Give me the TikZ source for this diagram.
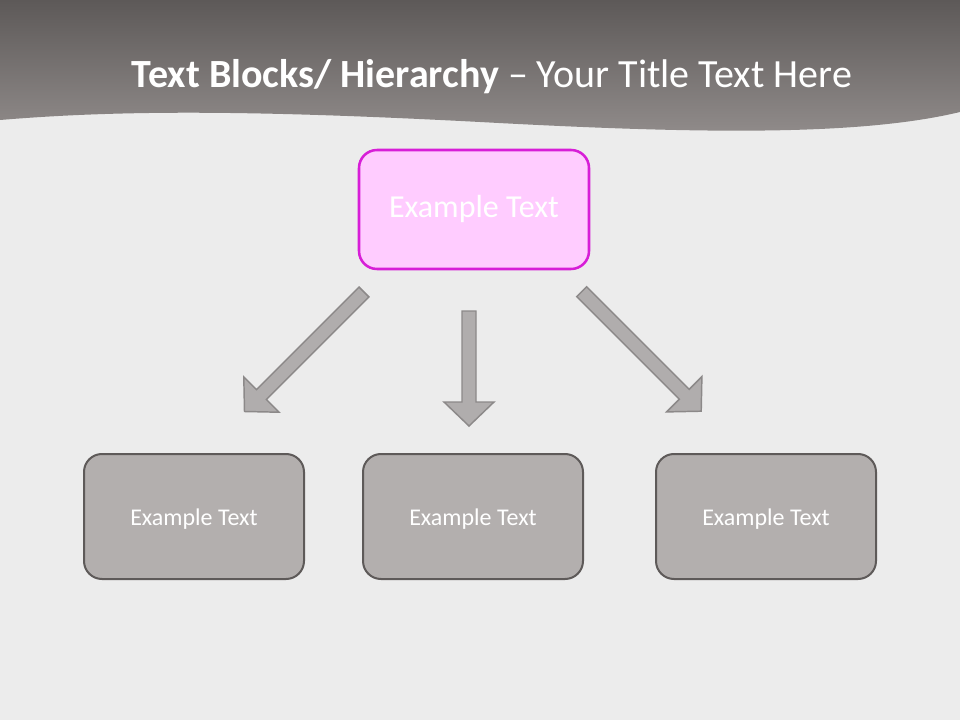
\documentclass[tikz,border=0pt]{standalone}
\usepackage{fontspec}
\setmainfont{Carlito}
\usepackage{tikz}
\usetikzlibrary{calc}

\definecolor{paper}{RGB}{236,236,236}
\definecolor{bandtop}{RGB}{93,89,88}
\definecolor{bandbottom}{RGB}{145,140,139}
\definecolor{pinkfill}{RGB}{255,204,255}
\definecolor{pinkline}{RGB}{215,30,215}
\definecolor{boxfill}{RGB}{179,175,174}
\definecolor{boxline}{RGB}{94,90,89}
\definecolor{arrowfill}{RGB}{176,173,173}
\definecolor{arrowline}{RGB}{140,137,137}

\tikzset{
    topbox/.style={draw=pinkline,fill=pinkfill,line width=1.9pt,rounded corners=13.5pt,
        minimum width=172.5pt,minimum height=89.25pt,text=white,font=\fontsize{24}{28}\selectfont,
        text height=12.75pt,text depth=0pt},
    childbox/.style={draw=boxline,fill=boxfill,line width=1.5pt,rounded corners=13.5pt,
        minimum width=165pt,minimum height=93.75pt,text=white,font=\fontsize{18}{22}\selectfont,
        text height=12.75pt,text depth=0pt},
    blockarrow/.style={draw=arrowline,fill=arrowfill,line width=1.1pt,line join=miter}
}

\begin{document}
\begin{tikzpicture}[x=0.75pt,y=-0.75pt]
            \useasboundingbox (0,0) rectangle (960,720);
            \fill[paper] (0,0) rectangle (960,720);
            % title band
            \shade[top color=bandtop,bottom color=bandbottom]
                (0,0) -- (960,0) -- (960,112)
                .. controls (860,136) and (700,134) .. (480,122)
                .. controls (250,110) and (120,110) .. (0,120) -- cycle;
            \node[anchor=base,text=white,font=\fontsize{30}{36}\selectfont] (title) at (492,88)
                {\textbf{Text Blocks/ Hierarchy} -- Your Title Text Here};
            % boxes
            \node[topbox] (top) at (474,209.5) {Example Text};
            \node[childbox] (left) at (194,516.5) {Example Text};
            \node[childbox] (middle) at (473,516.5) {Example Text};
            \node[childbox] (right) at (766,516.5) {Example Text};
            % block arrows
            \foreach \ang/\px/\py/\len in {-135/364/292/169, -90/469/311/115, -45/581.7/291.7/169} {
                \draw[blockarrow,shift={(\px,\py)},rotate=\ang]
                    (0,-7) -- (\len-24,-7) -- (\len-24,-25) -- (\len,0)
                    -- (\len-24,25) -- (\len-24,7) -- (0,7) -- cycle;
            }
        \end{tikzpicture}
\end{document}
